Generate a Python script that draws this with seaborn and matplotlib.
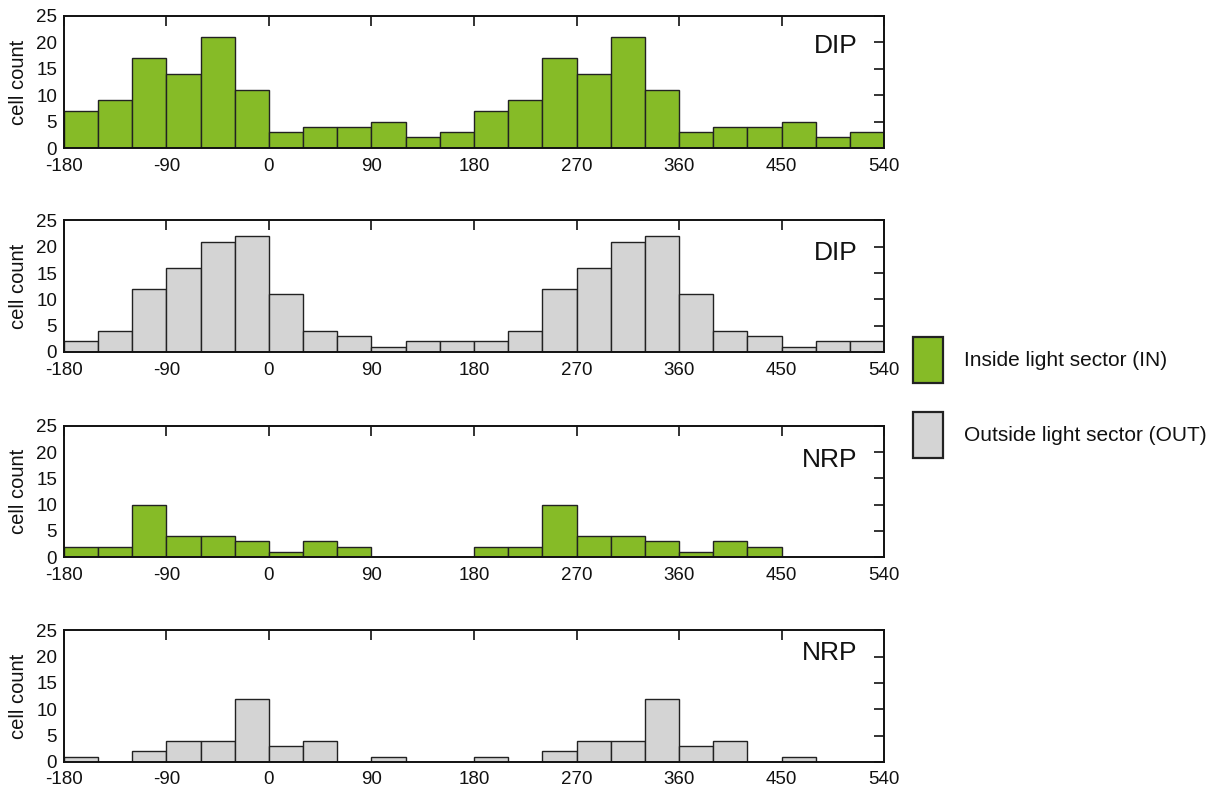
import numpy as np
import pandas as pd
import seaborn as sns
import matplotlib.pyplot as plt
from matplotlib.patches import Patch

# bin edges (deg), 30 deg bins, phase double-plotted from -180 to 540
bin_edges = list(range(-180, 541, 30))
bin_centers = [e + 15 for e in bin_edges[:-1]]

dip_in = [7, 9, 17, 14, 21, 11, 3, 4, 4, 5, 2, 3,
          7, 9, 17, 14, 21, 11, 3, 4, 4, 5, 2, 3]
dip_out = [2, 4, 12, 16, 21, 22, 11, 4, 3, 1, 2, 2,
           2, 4, 12, 16, 21, 22, 11, 4, 3, 1, 2, 2]
nrp_in = [2, 2, 10, 4, 4, 3, 1, 3, 2, 0, 0, 0,
          2, 2, 10, 4, 4, 3, 1, 3, 2, 0, 0, 0]
nrp_out = [1, 0, 2, 4, 4, 12, 3, 4, 0, 1, 0, 0,
           1, 0, 2, 4, 4, 12, 3, 4, 0, 1, 0, 0]

panel_counts = [dip_in, dip_out, nrp_in, nrp_out]
panel_names = ['DIP', 'DIP', 'NRP', 'NRP']
panel_kind = ['IN', 'OUT', 'IN', 'OUT']
label_y = [0.77, 0.755, 0.74, 0.83]

colors = {'IN': '#86bb27', 'OUT': '#d4d4d4'}
legend_labels = {'IN': 'Inside light sector (IN)', 'OUT': 'Outside light sector (OUT)'}
x_ticks = np.arange(-180, 541, 90)
y_ticks = np.arange(0, 26, 5)

sns.set_style('white')
plt.rcParams['font.family'] = ['Liberation Sans', 'DejaVu Sans']
plt.rcParams['axes.unicode_minus'] = False
plt.rcParams['text.color'] = '#111111'
plt.rcParams['axes.labelcolor'] = '#111111'
plt.rcParams['xtick.color'] = '#111111'
plt.rcParams['ytick.color'] = '#111111'

fig = plt.figure(figsize=(12.16, 7.96), dpi=100)

# axes boxes: left, bottom, width, height in figure fractions
boxes = [
    [0.0526, 0.814, 0.6744, 0.166],
    [0.0526, 0.558, 0.6744, 0.165],
    [0.0526, 0.300, 0.6744, 0.165],
    [0.0526, 0.043, 0.6744, 0.165],
]

for i in range(4):
    ax = fig.add_axes(boxes[i])
    df = pd.DataFrame({'phase': bin_centers, 'count': panel_counts[i]})
    sns.histplot(data=df, x='phase', weights='count', bins=bin_edges, ax=ax,
                 color=colors[panel_kind[i]], alpha=1, edgecolor='#222222',
                 linewidth=1.0)
    ax.set_axisbelow(True)
    ax.set_xlim(-180, 540)
    ax.set_ylim(0, 25)
    ax.set_xticks(x_ticks)
    ax.set_yticks(y_ticks)
    ax.set_xlabel('')
    ax.set_ylabel('cell count', fontsize=14.5, labelpad=6)
    ax.tick_params(direction='in', length=7, width=1.2, top=True, right=True,
                   labelsize=13.5)
    ax.tick_params(axis='x', pad=7)
    ax.tick_params(axis='y', pad=5)
    for s in ax.spines.values():
        s.set_linewidth(1.4)
        s.set_color('#111111')
        s.set_visible(True)
    ax.text(0.968, label_y[i], panel_names[i], transform=ax.transAxes,
            ha='right', va='center', fontsize=19)

handles = [Patch(facecolor=colors[k], edgecolor='#222222', linewidth=1.6)
           for k in ['IN', 'OUT']]
fig.legend(handles, [legend_labels['IN'], legend_labels['OUT']],
           loc='center left', bbox_to_anchor=(0.751, 0.501), frameon=False,
           borderpad=0, borderaxespad=0,
           fontsize=15, handlelength=1.45, handleheight=3.0,
           handletextpad=1.0, labelspacing=1.4)

plt.savefig('out.png', dpi=100)
